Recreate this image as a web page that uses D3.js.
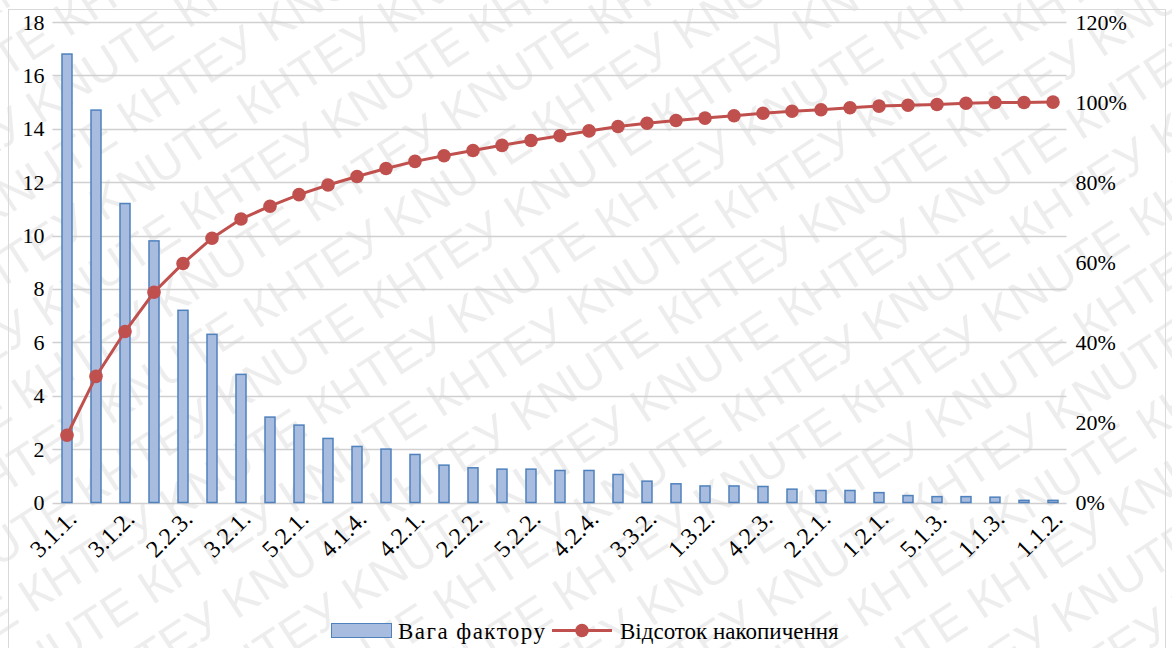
<!DOCTYPE html>
<html>
<head>
<meta charset="utf-8">
<script src="https://cdn.jsdelivr.net/npm/d3@7"></script>
<style>
  html, body { margin: 0; padding: 0; background: #fff; }
  svg { display: block; }
  text { font-family: "Liberation Serif", "Times New Roman", Tinos, "DejaVu Serif", "Noto Serif", serif; fill: #000; }
</style>
</head>
<body>
<svg id="chart" width="1172" height="648"></svg>
<script>
// Factor codes, ordered by weight (Pareto order)
const categories = [
  "3.1.1.", "3.1.3.", "3.1.2.", "2.1.1.", "2.2.3.", "3.2.2.", "3.2.1.", "5.1.1.", "5.2.1.", "4.1.1.",
  "4.1.4.", "4.1.2.", "4.2.1.", "4.1.3.", "2.2.2.", "2.1.2.", "5.2.2.", "5.2.3.", "4.2.4.", "4.2.2.",
  "3.3.2.", "3.3.1.", "1.3.2.", "1.3.1.", "4.2.3.", "2.1.3.", "2.2.1.", "1.2.2.", "1.2.1.", "5.1.2.",
  "5.1.3.", "1.1.1.", "1.1.3.", "1.2.3.", "1.1.2."
];

// Weight of each factor
const weights = [
  16.8, 14.7, 11.2, 9.8, 7.2, 6.3, 4.8, 3.2, 2.9, 2.4,
  2.1, 2.0, 1.8, 1.4, 1.3, 1.25, 1.25, 1.2, 1.2, 1.05,
  0.8, 0.7, 0.62, 0.62, 0.6, 0.5, 0.45, 0.45, 0.37, 0.26,
  0.22, 0.22, 0.2, 0.08, 0.08
];

// Cumulative share, %
const cumulative = [
  16.8, 31.5, 42.7, 52.5, 59.7, 66.0, 70.8, 74.0, 76.9, 79.3,
  81.4, 83.4, 85.2, 86.6, 87.9, 89.2, 90.4, 91.6, 92.8, 93.9,
  94.7, 95.4, 96.0, 96.6, 97.2, 97.7, 98.1, 98.6, 99.0, 99.2,
  99.4, 99.7, 99.9, 99.9, 100.0
];

const leftTicks = [0, 2, 4, 6, 8, 10, 12, 14, 16, 18];
const rightTicks = [0, 20, 40, 60, 80, 100, 120];

const seriesNames = ["Вага фактору", "Відсоток накопичення"];
const watermarkWords = ["KNUTE", "КНТЕУ"];

const SERIF = "'Liberation Serif', 'Times New Roman', Tinos, 'DejaVu Serif', 'Noto Serif', serif";

const svg = d3.select("#chart");
const W = 1172, H = 648;

// Plot geometry
const plot = { left: 52.5, right: 1067.5, top: 22, bottom: 502.5 };

const x = d3.scaleBand()
  .domain(categories)
  .range([plot.left, plot.right])
  .paddingInner(0.655)
  .paddingOuter(0.655 / 2);

const yLeft = d3.scaleLinear().domain([0, 18]).range([plot.bottom, plot.top]);
const yRight = d3.scaleLinear().domain([0, 120]).range([plot.bottom, plot.top]);

// Background
svg.append("rect").attr("width", W).attr("height", H).attr("fill", "#fff");

// Diagonal watermark, clipped to the canvas
svg.append("clipPath").attr("id", "canvas-clip")
  .append("rect").attr("width", W).attr("height", H);
const wm = svg.append("g")
  .attr("clip-path", "url(#canvas-clip)")
  .append("g")
  .attr("transform", "rotate(-33 586 324)")
  .attr("fill", "#000")
  .attr("fill-opacity", 0.07);
const rowText = d3.range(14).map(i => watermarkWords[i % 2]).join(" ");
d3.range(-11, 13).forEach(r => {
  wm.append("text")
    .attr("x", -900 + (r % 2 ? 0 : 105))
    .attr("y", 324 + r * 58)
    .style("font-family", "'Liberation Sans', Arial, sans-serif")
    .style("font-size", "48px")
    .attr("fill", "#000")
    .text(r % 2 ? rowText : watermarkWords.slice().reverse().concat(rowText).join(" "));
});

// Chart frame
svg.append("rect")
  .attr("x", 8.5).attr("y", 9.5)
  .attr("width", 1157).attr("height", 650)
  .attr("fill", "none")
  .attr("stroke", "#d9d9d9")
  .attr("stroke-width", 1);

// Gridlines
svg.append("g")
  .selectAll("line")
  .data(leftTicks)
  .join("line")
  .attr("x1", plot.left).attr("x2", plot.right - 1)
  .attr("y1", d => Math.round(yLeft(d)) + 0.5)
  .attr("y2", d => Math.round(yLeft(d)) + 0.5)
  .attr("stroke", "#d0d0d0")
  .attr("stroke-width", 1.3);

// Left axis
const axisLeft = d3.axisLeft(yLeft).tickValues(leftTicks).tickSize(0).tickPadding(8);
svg.append("g")
  .attr("transform", `translate(${plot.left},0)`)
  .call(axisLeft)
  .attr("font-family", null)
  .call(g => g.select(".domain").remove())
  .call(g => g.selectAll("text")
    .style("font-family", SERIF)
    .style("font-size", "22px")
    .attr("fill", "#000"));

// Right axis
const axisRight = d3.axisRight(yRight).tickValues(rightTicks).tickSize(0).tickPadding(8)
  .tickFormat(d => d + "%");
svg.append("g")
  .attr("transform", `translate(${plot.right},0)`)
  .call(axisRight)
  .attr("font-family", null)
  .call(g => g.select(".domain").remove())
  .call(g => g.selectAll("text")
    .style("font-family", SERIF)
    .style("font-size", "22px")
    .attr("fill", "#000"));

// Bars
svg.append("g")
  .selectAll("rect")
  .data(weights)
  .join("rect")
  .attr("x", (d, i) => x(categories[i]))
  .attr("y", d => yLeft(d))
  .attr("width", x.bandwidth())
  .attr("height", d => yLeft(0) - yLeft(d))
  .attr("fill", "#a7bcdf")
  .attr("stroke", "#4f81bd")
  .attr("stroke-width", 1.5);

// Category labels (every other one is shown)
const xAxis = d3.axisBottom(x)
  .tickValues(categories.filter((c, i) => i % 2 === 0))
  .tickSize(0)
  .tickPadding(0);
svg.append("g")
  .attr("transform", `translate(0,${plot.bottom})`)
  .call(xAxis)
  .attr("font-family", null)
  .call(g => g.select(".domain").remove())
  .call(g => g.selectAll("text")
    .style("font-family", SERIF)
    .style("font-size", "24px")
    .attr("fill", "#000")
    .attr("text-anchor", "end")
    .attr("dy", null)
    .attr("y", 0)
    .attr("transform", "translate(11,18) rotate(-45)"));

// Cumulative line
const cx = (d, i) => x(categories[i]) + x.bandwidth() / 2;
const line = d3.line().x(cx).y(d => yRight(d));
svg.append("path")
  .datum(cumulative)
  .attr("d", line)
  .attr("fill", "none")
  .attr("stroke", "#c0504d")
  .attr("stroke-width", 3);

svg.append("g")
  .selectAll("circle")
  .data(cumulative)
  .join("circle")
  .attr("cx", cx)
  .attr("cy", d => yRight(d))
  .attr("r", 6.8)
  .attr("fill", "#c0504d");

// Legend
const legend = svg.append("g");
legend.append("rect")
  .attr("x", 331.5).attr("y", 623.5)
  .attr("width", 60).attr("height", 14)
  .attr("fill", "#a7bcdf")
  .attr("stroke", "#4f81bd")
  .attr("stroke-width", 1);
legend.append("text")
  .attr("x", 398).attr("y", 639)
  .style("font-family", SERIF)
  .style("font-size", "23px")
  .attr("textLength", 147)
  .attr("lengthAdjust", "spacing")
  .text(seriesNames[0]);
legend.append("line")
  .attr("x1", 552).attr("x2", 612)
  .attr("y1", 630.5).attr("y2", 630.5)
  .attr("stroke", "#c0504d")
  .attr("stroke-width", 3);
legend.append("circle")
  .attr("cx", 582).attr("cy", 630.5).attr("r", 6.8)
  .attr("fill", "#c0504d");
legend.append("text")
  .attr("x", 620).attr("y", 639)
  .style("font-family", SERIF)
  .style("font-size", "23px")
  .text(seriesNames[1]);
</script>
</body>
</html>
